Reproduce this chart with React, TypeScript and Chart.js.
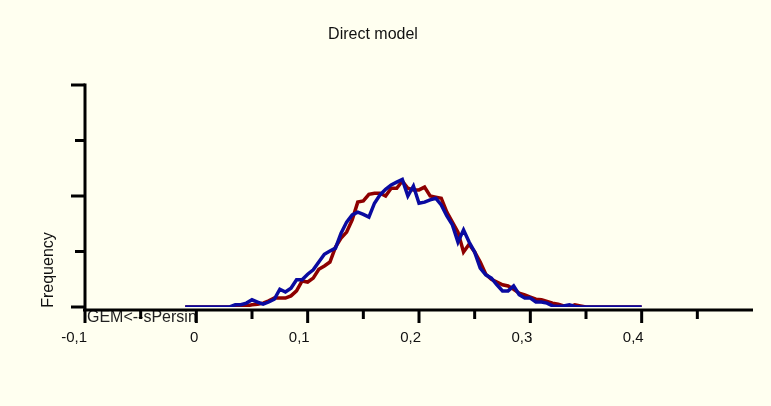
import { useEffect, useRef } from 'react';
import { Chart, registerables } from 'chart.js';

Chart.register(...registerables);

const chartTitle = 'Direct model';
const yTitle = 'Frequency';
const cornerNote = 'GEM<--sPersin';

const xValues = [
  -0.01, -0.005, 0, 0.005, 0.01, 0.015, 0.02, 0.025, 0.03, 0.035,
  0.04, 0.045, 0.05, 0.055, 0.06, 0.065, 0.07, 0.075, 0.08, 0.085,
  0.09, 0.095, 0.1, 0.105, 0.11, 0.115, 0.12, 0.125, 0.13, 0.135,
  0.14, 0.145, 0.15, 0.155, 0.16, 0.165, 0.17, 0.175, 0.18, 0.185,
  0.19, 0.195, 0.2, 0.205, 0.21, 0.215, 0.22, 0.225, 0.23, 0.235,
  0.24, 0.245, 0.25, 0.255, 0.26, 0.265, 0.27, 0.275, 0.28, 0.285,
  0.29, 0.295, 0.3, 0.305, 0.31, 0.315, 0.32, 0.325, 0.33, 0.335,
  0.34, 0.345, 0.35, 0.355, 0.36, 0.365, 0.37, 0.375, 0.38, 0.385,
  0.39, 0.395, 0.4,
];

const redSeries = [
  0, 0, 0, 0, 0, 0, 0, 0, 0, 0,
  1, 2, 4, 5, 7, 11, 16, 16, 16, 20,
  29, 47, 45, 52, 68, 74, 81, 108, 124, 135,
  157, 189, 191, 203, 205, 205, 200, 214, 214, 227,
  214, 211, 211, 216, 200, 198, 196, 171, 153, 135,
  99, 113, 99, 81, 59, 50, 45, 40, 38, 32,
  25, 22, 18, 14, 13, 10, 7, 5, 2, 0,
  4, 2, 0, 0, 0, 0, 0, 0, 0, 0,
  0, 0, 0,
];

const blueSeries = [
  0, 0, 0, 0, 0, 0, 0, 0, 0, 4,
  4, 7, 13, 9, 5, 9, 14, 32, 27, 34,
  49, 49, 59, 67, 81, 95, 101, 106, 133, 153,
  166, 171, 167, 162, 187, 202, 212, 220, 225, 230,
  200, 218, 187, 189, 193, 196, 184, 164, 148, 117,
  139, 117, 99, 70, 58, 52, 40, 29, 29, 38,
  22, 16, 16, 9, 9, 7, 2, 1, 2, 4,
  1, 0, 0, 0, 0, 0, 0, 0, 0, 0,
  0, 0, 0,
];

const xTickValues = [-0.1, 0, 0.1, 0.2, 0.3, 0.4];
const xTickLabels = ['-0,1', '0', '0,1', '0,2', '0,3', '0,4'];
const xMinorTicks = [-0.05, 0.05, 0.15, 0.25, 0.35, 0.45];
const yMajorTicks = [0, 200, 400];
const yMinorTicks = [100, 300];

const BG = '#FFFFF0';
const FONT = '"Liberation Sans", Arial, sans-serif';

const decorPlugin = {
  id: 'decor',
  beforeDraw(chart: any) {
    const ctx = chart.ctx;
    ctx.save();
    ctx.fillStyle = BG;
    ctx.fillRect(0, 0, chart.width, chart.height);
    ctx.restore();
  },
  afterDraw(chart: any) {
    const ctx = chart.ctx;
    const xs = chart.scales.x;
    const ys = chart.scales.y;
    const x0 = xs.getPixelForValue(-0.1);
    const xEnd = xs.getPixelForValue(0.5);
    const yTop = ys.getPixelForValue(400);
    const yZero = ys.getPixelForValue(0);
    const axisY = yZero + 3;

    ctx.save();
    // corner note, clipped between the first two major ticks
    ctx.save();
    ctx.beginPath();
    ctx.rect(x0 + 1, axisY + 1, xs.getPixelForValue(0) - x0 - 1, 12);
    ctx.clip();
    ctx.fillStyle = '#222';
    ctx.font = `16px ${FONT}`;
    ctx.textAlign = 'left';
    ctx.textBaseline = 'alphabetic';
    ctx.fillText(cornerNote, x0 + 2, axisY + 12);
    ctx.restore();

    ctx.strokeStyle = '#000';
    ctx.lineWidth = 3;
    ctx.lineCap = 'butt';
    // axes
    ctx.beginPath();
    ctx.moveTo(x0 - 2, axisY);
    ctx.lineTo(xEnd, axisY);
    ctx.stroke();
    ctx.beginPath();
    ctx.moveTo(x0, yTop - 1.5);
    ctx.lineTo(x0, axisY);
    ctx.stroke();
    // y ticks
    yMajorTicks.forEach((v) => {
      const y = ys.getPixelForValue(v);
      ctx.beginPath();
      ctx.moveTo(x0 - 14, y);
      ctx.lineTo(x0, y);
      ctx.stroke();
    });
    yMinorTicks.forEach((v) => {
      const y = ys.getPixelForValue(v);
      ctx.beginPath();
      ctx.moveTo(x0 - 10, y);
      ctx.lineTo(x0, y);
      ctx.stroke();
    });
    // x ticks
    xTickValues.forEach((v) => {
      const x = xs.getPixelForValue(v);
      ctx.beginPath();
      ctx.moveTo(x, axisY);
      ctx.lineTo(x, axisY + 13);
      ctx.stroke();
    });
    xMinorTicks.forEach((v) => {
      const x = xs.getPixelForValue(v);
      ctx.beginPath();
      ctx.moveTo(x, axisY);
      ctx.lineTo(x, axisY + 9);
      ctx.stroke();
    });
    // x tick labels
    ctx.fillStyle = '#111';
    ctx.font = `15px ${FONT}`;
    ctx.textAlign = 'right';
    ctx.textBaseline = 'alphabetic';
    xTickValues.forEach((v, i) => {
      const x = xs.getPixelForValue(v);
      ctx.fillText(xTickLabels[i], x + 2, axisY + 32);
    });
    // title
    ctx.font = `16px ${FONT}`;
    ctx.textAlign = 'center';
    ctx.fillText(chartTitle, 373, 39);
    // y title
    ctx.save();
    ctx.translate(53, 270);
    ctx.rotate(-Math.PI / 2);
    ctx.textAlign = 'center';
    ctx.fillText(yTitle, 0, 0);
    ctx.restore();
    ctx.restore();
  },
};

export default function App() {
  const ref = useRef<HTMLCanvasElement | null>(null);
  useEffect(() => {
    document.body.style.margin = '0';
    const canvas = ref.current;
    if (!canvas) return;
    const chart = new Chart(canvas, {
      type: 'line',
      data: {
        labels: xValues,
        datasets: [
          {
            label: 'Blue',
            data: xValues.map((x, i) => ({ x, y: blueSeries[i] })),
            borderColor: '#0A0AA0',
            borderWidth: 3.5,
            pointRadius: 0,
            tension: 0,
            fill: false,
            order: 0,
          },
          {
            label: 'Red',
            data: xValues.map((x, i) => ({ x, y: redSeries[i] })),
            borderColor: '#8E0000',
            borderWidth: 3.5,
            pointRadius: 0,
            tension: 0,
            fill: false,
            order: 1,
          },
        ],
      },
      options: {
        animation: false,
        responsive: false,
        devicePixelRatio: 1,
        parsing: false as any,
        layout: { padding: { left: 85, top: 85, right: 18, bottom: 99 } },
        plugins: {
          legend: { display: false },
          title: { display: false },
          tooltip: { enabled: false },
        },
        scales: {
          x: { type: 'linear', min: -0.1, max: 0.5, display: false },
          y: { type: 'linear', min: 0, max: 400, display: false },
        },
      },
      plugins: [decorPlugin],
    });
    return () => chart.destroy();
  }, []);
  return (
    <div style={{ width: 771, height: 406 }}>
      <canvas ref={ref} width={771} height={406} style={{ display: 'block' }} />
    </div>
  );
}
